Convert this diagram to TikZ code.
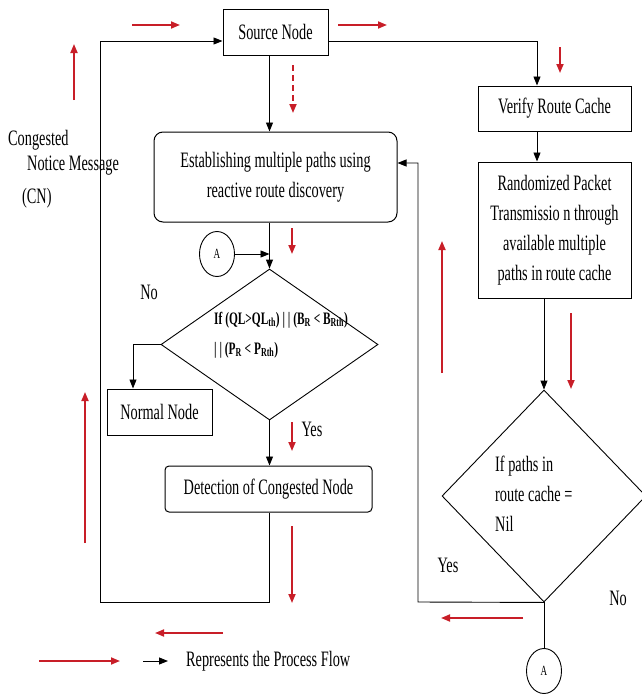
\documentclass[tikz,border=0pt]{standalone}
\usepackage{fontspec}
\setmainfont{Liberation Serif}[FakeStretch=0.65]
\usetikzlibrary{arrows.meta,shapes.geometric,calc}
\definecolor{flowred}{RGB}{200,30,40}
\begin{document}
\begin{tikzpicture}[x=1pt,y=-1pt,
  every node/.style={font=\fontsize{22}{30}\selectfont},
  box/.style={draw,line width=1pt,inner sep=0pt,align=center},
  conn/.style={line width=0.9pt,-{Triangle[length=9pt,width=7pt]}},
  plainline/.style={line width=0.9pt},
  redarr/.style={flowred,line width=1.7pt,-{Triangle[length=9pt,width=7pt]}},
  lbl/.style={inner sep=0pt},
  connector/.style={draw,ellipse,line width=0.9pt,minimum width=35,minimum height=45,inner sep=0pt,font=\fontsize{14}{16}\selectfont},
  decision/.style={draw,diamond,line width=0.9pt,inner sep=0pt}]
\useasboundingbox (0,0) rectangle (642,696);

% boxes
\node[box,minimum width=105,minimum height=46] (src) at (275.5,32) {Source Node};
\node[box,rounded corners=9,minimum width=243,minimum height=90] (est) at (275.5,177) {Establishing multiple paths using\\reactive route discovery};
\node[decision,minimum width=217,minimum height=151] (d1) at (269.5,344.5) {};
\node[lbl,anchor=west,align=left,font=\fontsize{17.5}{30}\selectfont\bfseries] (d1t) at (214,335) {If (QL>QL\textsubscript{th}) | | (B\textsubscript{R} < B\textsubscript{Rth})\\| | (P\textsubscript{R} < P\textsubscript{Rth})};
\node[connector] (cA1) at (217,254) {A};
\node[box,minimum width=105,minimum height=46] (normal) at (159.5,412) {Normal Node};
\node[box,rounded corners=4,minimum width=207,minimum height=46] (det) at (268.5,489) {Detection of Congested Node};
\node[box,minimum width=153,minimum height=45] (ver) at (554.5,108.5) {Verify Route Cache};
\node[box,minimum width=153,minimum height=136] (rnd) at (554.5,230) {Randomized Packet\\Transmissio n through\\available multiple\\paths in route cache};
\node[decision,minimum width=204,minimum height=212] (d2) at (544,496) {};
\node[lbl,anchor=west,align=left] (d2t) at (495,494) {If paths in\\route cache =\\Nil};
\node[connector] (cA2) at (544,671) {A};

% labels
\node[lbl] (no1) at (149,292) {No};
\node[lbl] (yes1) at (312,429) {Yes};
\node[lbl] (yes2) at (448,565) {Yes};
\node[lbl] (no2) at (618,598) {No};
\node[lbl,anchor=west] (cg1) at (8,140) {Congested};
\node[lbl,anchor=west] (cg2) at (27,166) {Notice Message};
\node[lbl,anchor=west] (cg3) at (22,198) {(CN)};
\node[lbl,anchor=west] (leg) at (186,661) {Represents the Process Flow};

% helper coordinates
\coordinate (tl) at (100,41);
\coordinate (bl) at (100,602);
\coordinate (colR) at (537,41);
\coordinate (rl) at (418,602);
\coordinate (rt) at (418,163);
\coordinate (nl) at (133,344.5);
\coordinate (lg1) at (143,661);
\coordinate (lg2) at (168,661);

% black connectors
\draw[conn] (src.south -| d1.north) -- (est.north -| d1.north);
\draw[conn] (est.south -| d1.north) -- (d1.north);
\draw[conn] (cA1.east) -- (cA1.east -| d1.north);
\draw[conn] (d1.west) -- (nl) -- (nl |- normal.north);
\draw[conn] (d1.south) -- (d1.south |- det.north);
\draw[conn] (det.south -| d1.south) -- (d1.south |- bl) -- (bl) -- (tl) -- (src.west |- tl);
\draw[conn] (src.east |- colR) -- (colR) -- (colR |- ver.north);
\draw[conn] (ver.south -| colR) -- (rnd.north -| colR);
\draw[conn] (rnd.south -| d2.north) -- (d2.north);
\draw[conn] (d2.south) -- (rl) -- (rt) -- (est.east |- rt);
\draw[plainline] (d2.south) -- (cA2.north);
\draw[conn] (lg1) -- (lg2);

% red flow arrows
\draw[redarr] (132,25) -- (180,25);
\draw[redarr] (338,25) -- (387,25);
\draw[redarr] (560,47) -- (560,73);
\draw[redarr,dash pattern=on 6pt off 4pt] (293,65) -- (293,113);
\draw[redarr] (74,100) -- (74,44);
\draw[redarr] (292,228) -- (292,254);
\draw[redarr] (442,373) -- (442,241);
\draw[redarr] (571,313) -- (571,389);
\draw[redarr] (85,543) -- (85,392);
\draw[redarr] (292,422) -- (292,451);
\draw[redarr] (292,526) -- (292,603);
\draw[redarr] (223,633) -- (155,633);
\draw[redarr] (523,618) -- (441,618);
\draw[redarr] (39,661) -- (120,661);
\end{tikzpicture}
\end{document}
